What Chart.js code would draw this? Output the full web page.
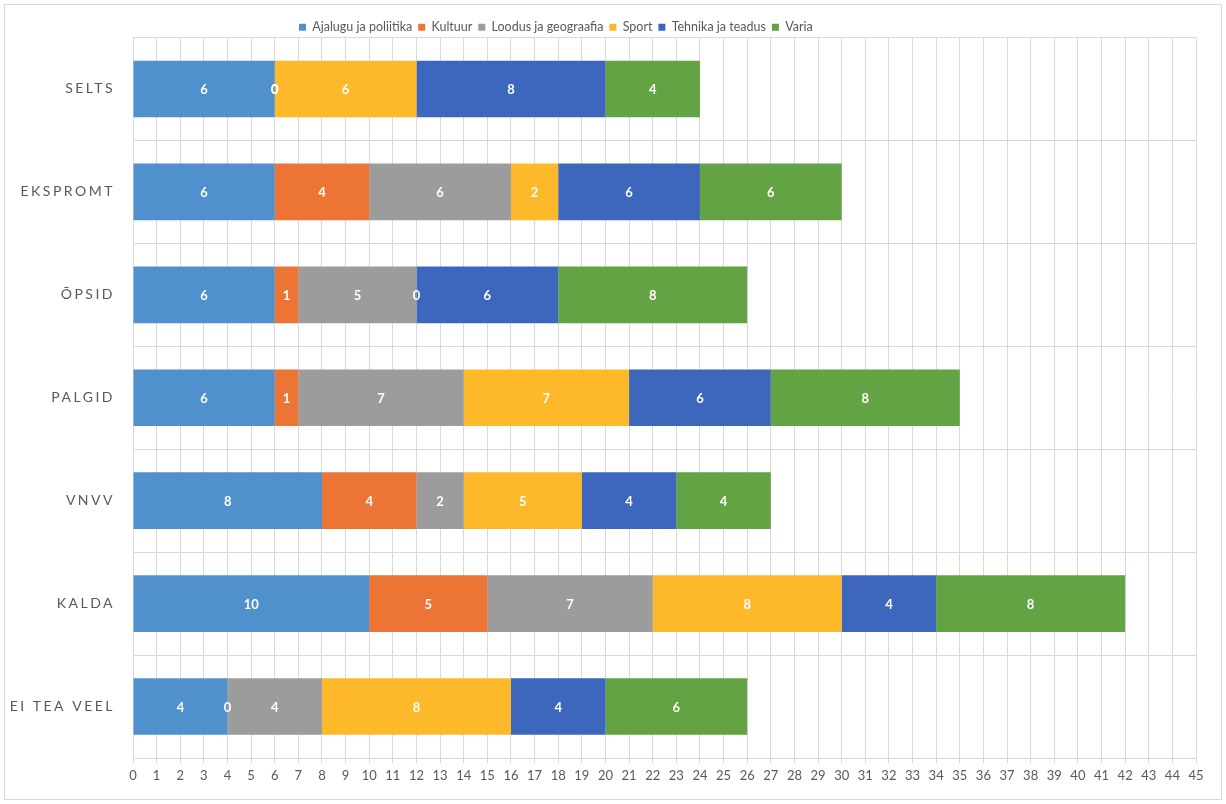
<!DOCTYPE html>
<html>
<head>
<meta charset="utf-8">
<script src="https://cdn.jsdelivr.net/npm/chart.js@4"></script>
<style>
  html, body { margin: 0; padding: 0; background: #fff; }
  #wrap { width: 1226px; height: 804px; position: relative; }
</style>
</head>
<body>
<div id="wrap"><canvas id="myChart" width="1226" height="804"></canvas></div>
<script>
// teams (rows) and points per topic
const teams = ["SELTS", "EKSPROMT", "ÕPSID", "PALGID", "VNVV", "KALDA", "EI TEA VEEL"];
const ajalugu = [6, 6, 6, 6, 8, 10, 4];
const kultuur = [0, 4, 1, 1, 4, 5, 0];
const loodus  = [0, 6, 5, 7, 2, 7, 4];
const sport   = [6, 2, 0, 7, 5, 8, 8];
const tehnika = [8, 6, 6, 6, 4, 4, 4];
const varia   = [4, 6, 8, 8, 4, 8, 6];
const xTicks = [0, 45, 1]; // min, max, step

const FONT = "Lato, 'Open Sans', sans-serif";

// outer border of the chart frame
const framePlugin = {
  id: "frame",
  beforeDraw(chart) {
    const ctx = chart.ctx;
    ctx.save();
    ctx.fillStyle = "#fff";
    ctx.fillRect(0, 0, chart.width, chart.height);
    ctx.strokeStyle = "#d9d9d9";
    ctx.lineWidth = 1;
    ctx.strokeRect(4.5, 4.5, chart.width - 9, chart.height - 9);
    ctx.restore();
  }
};

// legend sits a bit left of centre and lower, like the original
const legendShift = {
  id: "legendShift",
  afterLayout(chart) {
    const lg = chart.legend;
    if (!lg) return;
    lg.left = 293;
    lg.top += 6;
    lg.bottom += 6;
  }
};

// spaced-out category labels and white value labels
const labelPlugin = {
  id: "labels",
  afterDraw(chart) {
    const ctx = chart.ctx;
    const y = chart.scales.y;
    ctx.save();
    ctx.font = "14px " + FONT;
    ctx.fillStyle = "#595959";
    ctx.textAlign = "right";
    ctx.textBaseline = "middle";
    ctx.letterSpacing = "2.5px";
    teams.forEach((t, i) => {
      ctx.fillText(t, y.left + y.width - 18, y.getPixelForValue(i));
    });
    ctx.letterSpacing = "0px";
    ctx.font = "bold 13px " + FONT;
    ctx.fillStyle = "#fff";
    ctx.textAlign = "center";
    chart.data.datasets.forEach((ds, di) => {
      const meta = chart.getDatasetMeta(di);
      meta.data.forEach((bar, i) => {
        const cx = (bar.x + bar.base) / 2;
        ctx.fillText(String(ds.data[i]), cx, bar.y + 1);
      });
    });
    ctx.restore();
  }
};

const ctx = document.getElementById("myChart").getContext("2d");
new Chart(ctx, {
  type: "bar",
  data: {
    labels: teams,
    datasets: [
      { label: "Ajalugu ja poliitika", data: ajalugu, backgroundColor: "#5090cd" },
      { label: "Kultuur", data: kultuur, backgroundColor: "#ec7535" },
      { label: "Loodus ja geograafia", data: loodus, backgroundColor: "#9c9c9c" },
      { label: "Sport", data: sport, backgroundColor: "#fdb92a" },
      { label: "Tehnika ja teadus", data: tehnika, backgroundColor: "#3d66bd" },
      { label: "Varia", data: varia, backgroundColor: "#63a343" }
    ]
  },
  options: {
    indexAxis: "y",
    responsive: false,
    animation: false,
    layout: { padding: { top: 9, right: 30, bottom: 0, left: 0 } },
    datasets: { bar: { categoryPercentage: 1, barPercentage: 0.55, borderWidth: 0 } },
    plugins: {
      legend: {
        position: "top",
        align: "start",
        labels: {
          font: { family: FONT, size: 12.5 },
          color: "#595959",
          boxWidth: 7,
          boxHeight: 7,
          padding: 6
        }
      },
      tooltip: { enabled: false }
    },
    scales: {
      x: {
        stacked: true,
        min: xTicks[0],
        max: xTicks[1],
        ticks: { stepSize: xTicks[2], color: "#595959", font: { family: FONT, size: 13 }, padding: 5, maxRotation: 0, autoSkip: false },
        grid: { color: "#d9d9d9", tickLength: 5 },
        border: { color: "#d9d9d9" },
        afterFit(scale) { scale.height = 46; }
      },
      y: {
        stacked: true,
        ticks: { display: false },
        grid: { color: "#d9d9d9", drawTicks: false, offset: true },
        border: { color: "#d9d9d9" },
        afterFit(scale) { scale.width = 133; }
      }
    }
  },
  plugins: [framePlugin, legendShift, labelPlugin]
});
</script>
</body>
</html>
